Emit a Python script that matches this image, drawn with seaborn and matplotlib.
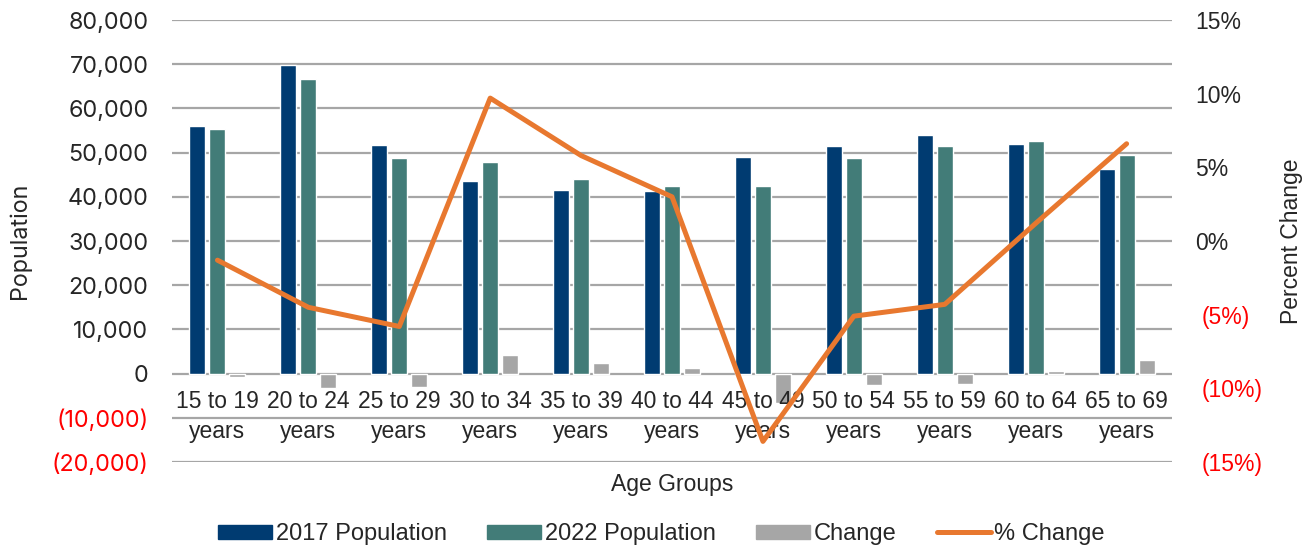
import numpy as np
import pandas as pd
import matplotlib
matplotlib.use("Agg")
import matplotlib.pyplot as plt
import seaborn as sns
from matplotlib.patches import Patch
from matplotlib.lines import Line2D
from matplotlib.ticker import FuncFormatter
from matplotlib.transforms import ScaledTranslation

# data
age_groups = ["15 to 19\nyears", "20 to 24\nyears", "25 to 29\nyears", "30 to 34\nyears",
              "35 to 39\nyears", "40 to 44\nyears", "45 to 49\nyears", "50 to 54\nyears",
              "55 to 59\nyears", "60 to 64\nyears", "65 to 69\nyears"]
pop_2017 = [56000, 69800, 51800, 43600, 41600, 41300, 49000, 51400, 53900, 52000, 46300]
pop_2022 = [55250, 66650, 48850, 47850, 44000, 42500, 42400, 48750, 51550, 52700, 49350]
change = [-750, -3150, -2950, 4250, 2400, 1200, -6600, -2650, -2350, 600, 3050]
pct_change = [-1.3, -4.5, -5.8, 9.7, 5.8, 3.0, -13.6, -5.1, -4.3, 1.2, 6.6]

series_names = ["2017 Population", "2022 Population", "Change"]
colors = ["#003B71", "#427C78", "#A6A6A6"]
orange = "#E8782F"
red = "#FF0000"

df = pd.DataFrame({
    "age": age_groups * 3,
    "value": pop_2017 + pop_2022 + change,
    "series": [s for s in series_names for _ in age_groups],
})

sns.set_style("white")
plt.rcParams["font.family"] = ["Liberation Sans", "DejaVu Sans"]

fig, ax = plt.subplots(figsize=(13.15, 5.48), dpi=100)
fig.subplots_adjust(left=0.1308, right=0.8913, bottom=0.1569, top=0.9635)

sns.barplot(data=df, x="age", y="value", hue="series", hue_order=series_names,
            palette=colors, width=0.66, gap=0.2, saturation=1, legend=False, ax=ax)
ax.set_xlim(-0.5, len(age_groups) - 0.5)
ax.set_ylim(-20000, 80000)
ax.set_yticks(np.arange(-20000, 80001, 10000))
ax.yaxis.set_major_formatter(FuncFormatter(
    lambda v, p: f"{v:,.0f}" if v >= 0 else f"({-v:,.0f})"))
ax.set_axisbelow(True)
ax.xaxis.set_zorder(3)   # category labels above the bars
ax.yaxis.grid(True, color="#A6A6A6", lw=1.6)
for s in ax.spines.values():
    s.set_visible(False)
ax.spines["bottom"].set_position(("data", 0))
ax.tick_params(axis="x", length=0, pad=12, labelsize=16.5)
ax.tick_params(axis="y", length=0, pad=17)
for lab in ax.get_xticklabels():
    lab.set_linespacing(1.35)
for lab in ax.get_yticklabels():
    lab.set_fontfamily("Inter")
    lab.set_fontsize(16.8)
    if lab.get_text().startswith("("):
        lab.set_color(red)
ax.set_xlabel("Age Groups", fontsize=16.5)
ax.xaxis.set_label_coords(0.5, -0.024)
ax.set_ylabel("Population", fontsize=16.8, fontfamily="Inter")
ax.yaxis.set_label_coords(-0.141, 0.5)

ax2 = ax.twinx()
sns.lineplot(x=np.arange(len(age_groups)), y=np.array(pct_change) / 100, ax=ax2,
             color=orange, lw=3.6)
ax2.set_ylim(-0.15, 0.15)
ax2.set_yticks(np.arange(-0.15, 0.151, 0.05))
ax2.yaxis.set_major_formatter(FuncFormatter(
    lambda v, p: f"{round(v * 100):d}%" if v >= -1e-9 else f"({round(-v * 100):d}%)"))
for s in ax2.spines.values():
    s.set_visible(False)
ax2.tick_params(axis="y", length=0, pad=16.5, labelsize=16.5)
shift = ScaledTranslation(7 / 100, 0, fig.dpi_scale_trans)
for lab in ax2.get_yticklabels():
    if lab.get_text().startswith("("):
        lab.set_color(red)
        lab.set_transform(lab.get_transform() + shift)
ax2.set_ylabel("Percent Change", fontsize=16.5)
ax2.yaxis.set_label_coords(1.108, 0.5)

# title, clipped at the top edge in the reference
fig.text(642 / 1315, 1.0125, "Aging Trends, 2017\u20132022", fontsize=20,
         fontweight="bold", ha="left", va="baseline")

handles = [Patch(color=c) for c in colors] + [Line2D([], [], color=orange, lw=3.6)]
fig.legend(handles, series_names + ["% Change"], loc="center",
           bbox_to_anchor=(0.503, 0.0255), ncol=4, frameon=False, fontsize=17,
           handlelength=2.3, handleheight=0.55, handletextpad=0.15,
           columnspacing=1.7)

fig.savefig("out.png", dpi=100)
